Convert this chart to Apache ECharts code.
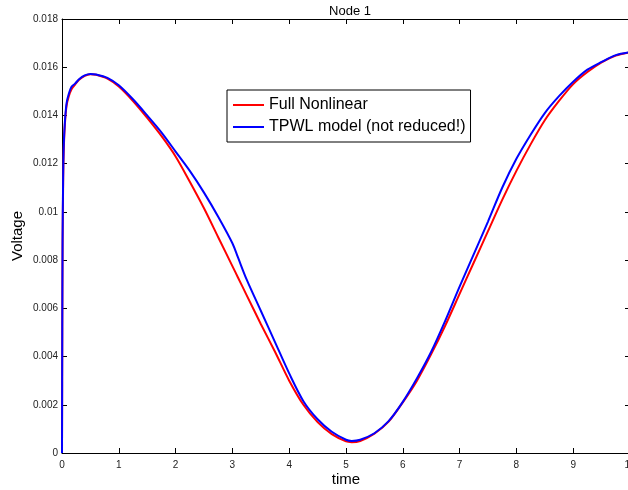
<!DOCTYPE html>
<html>
<head>
<meta charset="utf-8">
<script src="https://cdn.jsdelivr.net/npm/echarts@6/dist/echarts.min.js"></script>
<style>html,body{margin:0;padding:0;background:#fff}#c{width:628px;height:490px}</style>
</head>
<body>
<div id="c"></div>
<script>
var times = [0, 0.005, 0.01, 0.02, 0.03, 0.05, 0.08, 0.12, 0.17, 0.23, 0.3, 0.4, 0.5, 0.6, 0.8, 1.0, 1.25, 1.5, 1.75, 2.0, 2.25, 2.5, 2.75, 3.0, 3.1, 3.25, 3.5, 3.75, 4.0, 4.25, 4.5, 4.75, 5.0, 5.1, 5.25, 5.5, 5.75, 6.0, 6.25, 6.5, 6.75, 7.0, 7.25, 7.5, 7.75, 8.0, 8.25, 8.5, 8.75, 9.0, 9.25, 9.5, 9.75, 10.0];
var fullNonlinear = [0, 0.0050, 0.0085, 0.0112, 0.0125, 0.0136, 0.0144, 0.0148, 0.0151, 0.01528, 0.01548, 0.01564, 0.01571, 0.01569, 0.01553, 0.01520, 0.01460, 0.01390, 0.01315, 0.01230, 0.01125, 0.01015, 0.00895, 0.00775, 0.00727, 0.00655, 0.00535, 0.00420, 0.00300, 0.00200, 0.00128, 0.00078, 0.00048, 0.00045, 0.00050, 0.00080, 0.00130, 0.00210, 0.00300, 0.00410, 0.00530, 0.00660, 0.00790, 0.00920, 0.01050, 0.01170, 0.01280, 0.01380, 0.01460, 0.01530, 0.01580, 0.01620, 0.01648, 0.01662];
var tpwlModel = [0, 0.0052, 0.0088, 0.0114, 0.0127, 0.0137, 0.0145, 0.0149, 0.0152, 0.01532, 0.01550, 0.01566, 0.01572, 0.01570, 0.01556, 0.01525, 0.01467, 0.01400, 0.01330, 0.01250, 0.01170, 0.01080, 0.00980, 0.00870, 0.00810, 0.00720, 0.00590, 0.00460, 0.00330, 0.00215, 0.00140, 0.00088, 0.00055, 0.00050, 0.00055, 0.00082, 0.00132, 0.00212, 0.00310, 0.00420, 0.00550, 0.00690, 0.00825, 0.00960, 0.01100, 0.01220, 0.01320, 0.01410, 0.01480, 0.01540, 0.01590, 0.01622, 0.01650, 0.01662];
var xTicks = [0, 1, 2, 3, 4, 5, 6, 7, 8, 9, 10];
var yTicks = [0, 0.002, 0.004, 0.006, 0.008, 0.01, 0.012, 0.014, 0.016, 0.018];
var seriesNames = ['Full Nonlinear', 'TPWL model (not reduced!)'];

function pairs(xs, ys) { return xs.map(function (x, i) { return [x, ys[i]]; }); }

var chart = echarts.init(document.getElementById('c'), null, {renderer: 'canvas'});
var font = 'Liberation Sans, Arial, Helvetica, sans-serif';
var axisCommon = {
  axisLine: {show: true, onZero: false, lineStyle: {color: '#000', width: 1}},
  axisTick: {show: true, inside: true, length: 5, lineStyle: {color: '#000', width: 1}},
  splitLine: {show: false}
};
chart.setOption({
  animation: false,
  backgroundColor: '#fff',
  textStyle: {fontFamily: font},
  title: {
    text: 'Node 1', left: 345, top: 0, textAlign: 'center',
    textStyle: {fontSize: 13, fontWeight: 'normal', color: '#000', fontFamily: font}
  },
  grid: {left: 62, right: -2, top: 19, bottom: 37, containLabel: false, outerBoundsMode: 'none'},
  legend: {
    orient: 'vertical', left: 227, top: 90,
    data: seriesNames,
    icon: 'rect',
    itemWidth: 31, itemHeight: 2, itemGap: 6,
    padding: [7, 5, 7, 6],
    borderColor: '#000', borderWidth: 1, backgroundColor: '#fff',
    textStyle: {fontSize: 16, color: '#000', fontFamily: font}
  },
  xAxis: [
    Object.assign({}, axisCommon, {
      type: 'value', min: 0, max: 10, interval: 1, position: 'bottom',
      name: 'time', nameLocation: 'middle', nameGap: 19, nameMoveOverlap: false,
      nameTextStyle: {fontSize: 15, color: '#000', fontFamily: font},
      axisLabel: {margin: 7, fontSize: 10, color: '#222', fontFamily: font,
        formatter: function (v) { return xTicks.indexOf(v) >= 0 ? String(v) : ''; }}
    }),
    Object.assign({}, axisCommon, {
      type: 'value', min: 0, max: 10, interval: 1, position: 'top',
      axisLabel: {show: false}
    })
  ],
  yAxis: [
    Object.assign({}, axisCommon, {
      type: 'value', min: 0, max: 0.018, interval: 0.002, position: 'left',
      name: 'Voltage', nameLocation: 'middle', nameGap: 37, nameMoveOverlap: false,
      nameTextStyle: {fontSize: 15, color: '#000', fontFamily: font},
      axisLabel: {margin: 4, fontSize: 10, color: '#222', fontFamily: font,
        formatter: function (v) {
          for (var i = 0; i < yTicks.length; i++) {
            if (Math.abs(yTicks[i] - v) < 1e-9) return String(yTicks[i]);
          }
          return '';
        }}
    }),
    Object.assign({}, axisCommon, {
      type: 'value', min: 0, max: 0.018, interval: 0.002, position: 'right',
      axisLabel: {show: false}
    })
  ],
  series: [
    {
      name: seriesNames[0], type: 'line', xAxisIndex: 0, yAxisIndex: 0,
      data: pairs(times, fullNonlinear), symbol: 'none', showSymbol: false, smooth: 0.3,
      lineStyle: {color: '#ff0000', width: 2}, itemStyle: {color: '#ff0000'}, z: 2
    },
    {
      name: seriesNames[1], type: 'line', xAxisIndex: 0, yAxisIndex: 0,
      data: pairs(times, tpwlModel), symbol: 'none', showSymbol: false, smooth: 0.3,
      lineStyle: {color: '#0000ff', width: 2}, itemStyle: {color: '#0000ff'}, z: 3
    }
  ]
});
</script>
</body>
</html>
